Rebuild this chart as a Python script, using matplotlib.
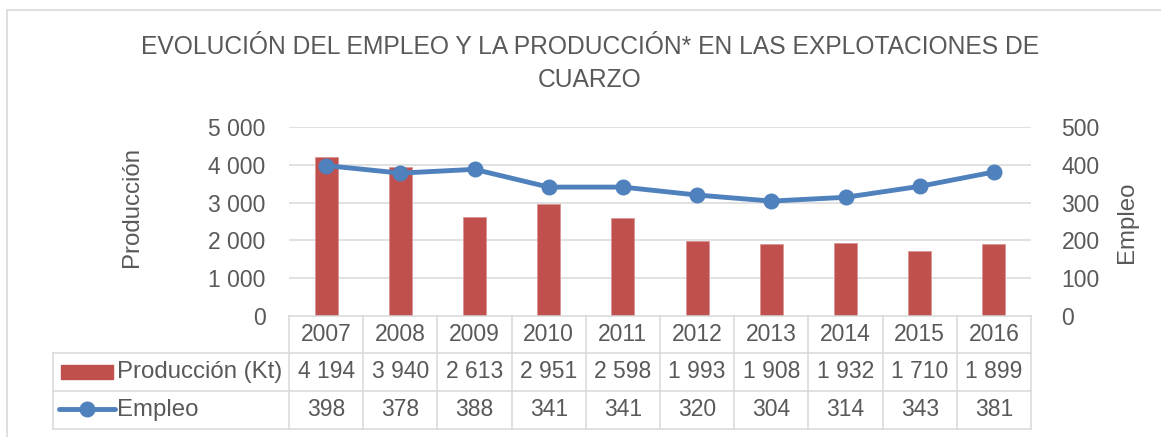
import matplotlib
matplotlib.use("Agg")
import matplotlib.pyplot as plt
from matplotlib.transforms import blended_transform_factory
from matplotlib.patches import Rectangle
from matplotlib.lines import Line2D

plt.rcParams['font.family'] = ['Liberation Sans', 'DejaVu Sans']

# datos
years = ["2007", "2008", "2009", "2010", "2011", "2012", "2013", "2014", "2015", "2016"]
produccion = [4194, 3940, 2613, 2951, 2598, 1993, 1908, 1932, 1710, 1899]
empleo = [398, 378, 388, 341, 341, 320, 304, 314, 343, 381]
prod_ticks = [0, 1000, 2000, 3000, 4000, 5000]
emp_ticks = [0, 100, 200, 300, 400, 500]

RED = "#C0504D"
BLUE = "#4F81BD"
TXT = "#595959"
GRID = "#D9D9D9"
FS = 16.5      # numeros
FS_TXT = 17.3  # etiquetas
FS_TIT = 17.7  # titulo

W, H = 1161, 437
fig = plt.figure(figsize=(W / 100, H / 100), dpi=100)

def fy(py):
    return 1 - py / H

def fx(px):
    return px / W

def miles(v):
    return format(v, ",").replace(",", " ")

# marco exterior
fig.patches.append(Rectangle((fx(7), fy(H + 5)), 1.2, fy(10) - fy(H + 5),
                             transform=fig.transFigure, fill=False,
                             edgecolor=GRID, linewidth=1.2))

ax = fig.add_axes([fx(289), fy(316), fx(1031) - fx(289), fy(127) - fy(316)])
x = list(range(len(years)))
ax.bar(x, produccion, width=0.31, color=RED, edgecolor="#D99694", linewidth=0.6, zorder=2)
ax.set_xlim(-0.5, len(years) - 0.5)
ax.set_ylim(0, 5000)
ax.set_yticks(prod_ticks)
ax.set_yticklabels([miles(v) for v in prod_ticks])
ax.tick_params(axis="y", length=0, pad=17, labelsize=FS, labelcolor=TXT)
ax.set_xticks([])
for s in ax.spines.values():
    s.set_visible(False)
for v in prod_ticks[1:]:
    ax.axhline(v, color=GRID, linewidth=1.1, zorder=0)

ax2 = ax.twinx()
ax2.plot(x, empleo, color=BLUE, linewidth=3.5, marker="o", markersize=10.5, zorder=3)
ax2.set_ylim(0, 500)
ax2.set_yticks(emp_ticks)
ax2.tick_params(axis="y", length=0, pad=22, labelsize=FS, labelcolor=TXT)
for s in ax2.spines.values():
    s.set_visible(False)

# titulos
fig.text(fx(590), fy(47), "EVOLUCIÓN DEL EMPLEO Y LA PRODUCCIÓN* EN LAS EXPLOTACIONES DE",
         ha="center", va="center", fontsize=FS_TIT, color=TXT)
fig.text(fx(590), fy(80), "CUARZO", ha="center", va="center", fontsize=FS_TIT, color=TXT)
fig.text(fx(132), fy(207), "Producción", rotation=90, ha="center", va="center",
         fontsize=FS_TXT, color=TXT)
fig.text(fx(1127), fy(222), "Empleo", rotation=90, ha="center", va="center",
         fontsize=FS_TXT, color=TXT)

# tabla de datos
tr = blended_transform_factory(ax.transData, fig.transFigure)
rows_y = [316, 353, 391, 429]
n = len(years)
fig.add_artist(Line2D([-0.5, n - 0.5], [fy(316)] * 2, transform=tr, color=GRID, lw=1.1))
for py in rows_y[1:]:
    fig.add_artist(Line2D([fx(53), fx(1031)], [fy(py)] * 2, transform=fig.transFigure,
                          color=GRID, lw=1.1))
for i in range(n + 1):
    fig.add_artist(Line2D([i - 0.5, i - 0.5], [fy(316), fy(429)], transform=tr,
                          color=GRID, lw=1.1))
fig.add_artist(Line2D([fx(53), fx(53)], [fy(353), fy(429)], transform=fig.transFigure,
                      color=GRID, lw=1.1))

for i in range(n):
    fig.text(i, fy(334.5), years[i], transform=tr, ha="center", va="center",
             fontsize=FS, color=TXT)
    fig.text(i, fy(372), miles(produccion[i]), transform=tr,
             ha="center", va="center", fontsize=FS, color=TXT)
    fig.text(i, fy(410), str(empleo[i]), transform=tr, ha="center", va="center",
             fontsize=FS, color=TXT)

# leyenda en la tabla
fig.patches.append(Rectangle((fx(61), fy(379)), fx(113) - fx(61), fy(365) - fy(379),
                             transform=fig.transFigure, color=RED))
fig.add_artist(Line2D([fx(59), fx(115)], [fy(409)] * 2, transform=fig.transFigure,
                      color=BLUE, lw=3.5, solid_capstyle="round"))
fig.add_artist(Line2D([fx(87)], [fy(409)], transform=fig.transFigure, color=BLUE,
                      marker="o", markersize=10.5))
fig.text(fx(117), fy(372), "Producción (Kt)", ha="left", va="center", fontsize=FS_TXT, color=TXT)
fig.text(fx(117), fy(410), "Empleo", ha="left", va="center", fontsize=FS_TXT, color=TXT)

fig.savefig("out.png", dpi=100)
